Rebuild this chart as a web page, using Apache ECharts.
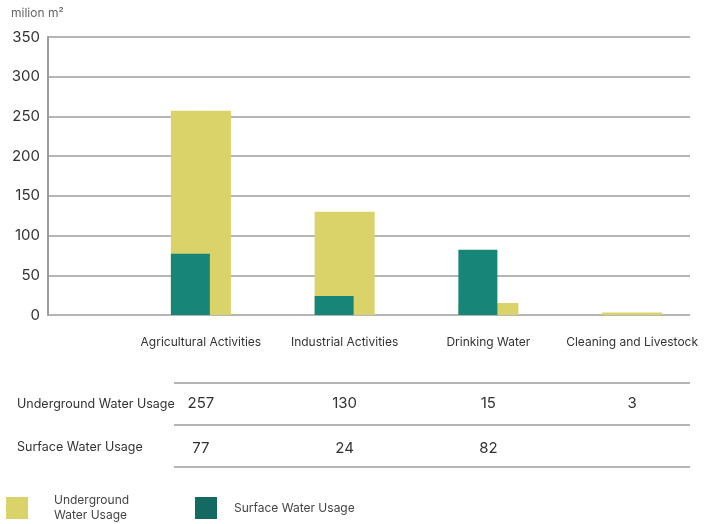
<!DOCTYPE html>
<html>
<head>
<meta charset="utf-8">
<script src="https://cdn.jsdelivr.net/npm/echarts@6/dist/echarts.min.js"></script>
<style>
  html, body { margin: 0; padding: 0; background: #fff; }
  #chart { width: 710px; height: 524px; }
</style>
</head>
<body>
<div id="chart"></div>
<script>
const categories = ['Agricultural Activities', 'Industrial Activities', 'Drinking Water', 'Cleaning and Livestock']
const underground = [257, 130, 15, 3]
const surface = [77, 24, 82, null]
const yTicks = [0, 50, 100, 150, 200, 250, 300, 350]

const yellow = '#d9d36a'
const teal = '#178678'
const tealLegend = '#156963'
const font = 'Inter'
const gridColor = '#9c9c9c'

const chart = echarts.init(document.getElementById('chart'))

chart.setOption({
  textStyle: { fontFamily: font },
  animation: false,
  grid: [
    { left: 48, right: 20, top: 37, bottom: 209 },
    { left: 129, right: 6, top: 37, bottom: 209 },
  ],
  xAxis: [
    { gridIndex: 0, type: 'value', show: false },
    {
      gridIndex: 1,
      type: 'category',
      data: categories,
      axisLine: { show: false },
      axisTick: { show: false },
      axisLabel: { color: '#333', fontSize: 12, margin: 21, interval: 0 },
    },
    {
      gridIndex: 1,
      type: 'category',
      data: underground.map((v) => (v == null ? '' : String(v))),
      position: 'bottom',
      offset: 81,
      axisLine: { show: false },
      axisTick: { show: false },
      axisLabel: { color: '#333', fontSize: 15, margin: 0, interval: 0 },
    },
    {
      gridIndex: 1,
      type: 'category',
      data: surface.map((v) => (v == null ? '' : String(v))),
      position: 'bottom',
      offset: 126,
      axisLine: { show: false },
      axisTick: { show: false },
      axisLabel: { color: '#333', fontSize: 15, margin: 0, interval: 0 },
    },
  ],
  yAxis: [
    {
      gridIndex: 0,
      type: 'value',
      min: yTicks[0],
      max: yTicks[yTicks.length - 1],
      interval: 50,
      axisLine: { show: true, lineStyle: { color: gridColor, width: 2 } },
      axisTick: { show: false },
      axisLabel: { color: '#333', fontSize: 15, margin: 8 },
      splitLine: { show: true, lineStyle: { color: gridColor, width: 1.5 } },
    },
    {
      gridIndex: 1,
      type: 'value',
      min: yTicks[0],
      max: yTicks[yTicks.length - 1],
      show: false,
    },
  ],
  legend: [
    {
      data: [{ name: 'Underground Water Usage', itemStyle: { color: yellow } }],
      left: 6,
      top: 493,
      padding: 0,
      itemWidth: 22,
      itemHeight: 22,
      icon: 'rect',
      formatter: () => 'Underground\nWater Usage',
      textStyle: { color: '#444', fontSize: 12, lineHeight: 15, padding: [0, 0, 0, 21] },
      selectedMode: false,
    },
    {
      data: [{ name: 'Surface Water Usage', itemStyle: { color: tealLegend } }],
      left: 195,
      top: 497,
      padding: 0,
      itemWidth: 22,
      itemHeight: 22,
      icon: 'rect',
      textStyle: { color: '#444', fontSize: 12, padding: [3, 0, 0, 12] },
      selectedMode: false,
    },
  ],
  graphic: [
    { type: 'text', left: 11, top: 7, style: { text: 'milion m²', fill: '#666', fontSize: 12, fontFamily: font } },
    { type: 'text', left: 17, top: 398, style: { text: 'Underground Water Usage', fill: '#333', fontSize: 12.5, fontFamily: font } },
    { type: 'text', left: 17, top: 441, style: { text: 'Surface Water Usage', fill: '#333', fontSize: 12.5, fontFamily: font } },
    { type: 'line', shape: { x1: 174, y1: 383, x2: 690, y2: 383 }, style: { stroke: gridColor, lineWidth: 1.5 } },
    { type: 'line', shape: { x1: 174, y1: 425, x2: 690, y2: 425 }, style: { stroke: gridColor, lineWidth: 1.5 } },
    { type: 'line', shape: { x1: 174, y1: 467, x2: 690, y2: 467 }, style: { stroke: gridColor, lineWidth: 1.5 } },
  ],
  series: [
    {
      name: 'Surface Water Usage',
      type: 'bar',
      xAxisIndex: 1,
      yAxisIndex: 1,
      data: surface,
      barWidth: 39,
      barGap: '-100%',
      z: 3,
      itemStyle: { color: teal },
    },
    {
      name: 'Underground Water Usage',
      type: 'bar',
      xAxisIndex: 1,
      yAxisIndex: 1,
      data: underground,
      barWidth: 60,
      barGap: '-100%',
      z: 2,
      itemStyle: { color: yellow },
    },
  ],
})
</script>
</body>
</html>
